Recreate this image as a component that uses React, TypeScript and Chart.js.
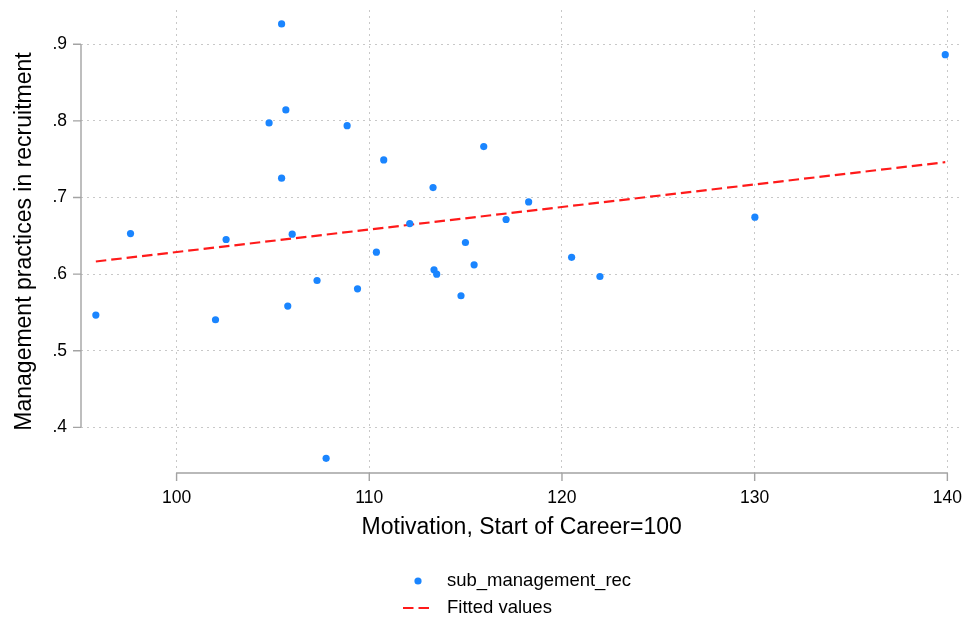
import React, { useEffect, useRef } from "react";
import { Chart, registerables } from "chart.js";

Chart.register(...registerables);

// Scatter observations: Motivation (x) vs Management practices in recruitment (y)
const motivation = [
  95.81, 97.61, 102.02, 102.57, 104.8, 105.45, 105.45, 105.67, 105.77, 106.0,
  107.29, 107.76, 108.85, 109.39, 110.37, 110.75, 112.1, 113.31, 113.36, 113.5,
  114.76, 114.99, 115.44, 115.94, 117.1, 118.27, 120.5, 121.97, 130.01, 139.89,
];
const management = [
  0.5466, 0.653, 0.5405, 0.6452, 0.7974, 0.9265, 0.7252, 0.8143, 0.5583, 0.6522,
  0.5917, 0.3596, 0.7938, 0.5809, 0.6287, 0.7491, 0.666, 0.713, 0.6057, 0.6,
  0.5718, 0.6413, 0.6122, 0.7665, 0.6713, 0.6943, 0.622, 0.5969, 0.6744, 0.8864,
];

// Fitted values (two end points of the straight fit)
const fitX = [95.81, 139.89];
const fitY = [0.6165, 0.7461];

const xTickValues = [100, 110, 120, 130, 140];
const xTickLabels = ["100", "110", "120", "130", "140"];
const yTickValues = [0.4, 0.5, 0.6, 0.7, 0.8, 0.9];
const yTickLabels = [".4", ".5", ".6", ".7", ".8", ".9"];

const seriesLabels = ["sub_management_rec", "Fitted values"];
const xTitle = "Motivation, Start of Career=100";
const yTitle = "Management practices in recruitment";

const FONT = "'Liberation Sans', Arial, Helvetica, sans-serif";
const BLUE = "#1a85ff";
const RED = "#ff1a1a";
const AXIS = "#a3a3a3";
const GRID = "#c8c8c8";
const DASH = [10.5, 5];

const axisPlugin = {
  id: "stataAxes",
  afterDraw(chart: any) {
    const ctx = chart.ctx;
    const xs = chart.scales.x;
    const ys = chart.scales.y;
    const area = chart.chartArea;
    ctx.save();
    ctx.strokeStyle = AXIS;
    ctx.lineWidth = 1.4;
    ctx.setLineDash([]);
    const xa = xs.getPixelForValue(xTickValues[0]);
    const xb = xs.getPixelForValue(xTickValues[xTickValues.length - 1]);
    const yBase = area.bottom;
    ctx.beginPath();
    ctx.moveTo(xa, yBase);
    ctx.lineTo(xb, yBase);
    for (const v of xTickValues) {
      const p = xs.getPixelForValue(v);
      ctx.moveTo(p, yBase);
      ctx.lineTo(p, yBase + 8);
    }
    ctx.stroke();
    const ya = ys.getPixelForValue(yTickValues[0]);
    const yb = ys.getPixelForValue(yTickValues[yTickValues.length - 1]);
    const xBase = area.left;
    ctx.beginPath();
    ctx.moveTo(xBase, ya);
    ctx.lineTo(xBase, yb);
    for (const v of yTickValues) {
      const p = ys.getPixelForValue(v);
      ctx.moveTo(xBase, p);
      ctx.lineTo(xBase - 8, p);
    }
    ctx.stroke();
    ctx.restore();
  },
};

const legendPlugin = {
  id: "stataLegend",
  afterDraw(chart: any) {
    const ctx = chart.ctx;
    const ds = chart.data.datasets;
    ctx.save();
    ctx.font = `18.5px ${FONT}`;
    ctx.textBaseline = "middle";
    ctx.textAlign = "left";
    const symX = 418;
    const textX = 447;
    const rowY = [581, 608];
    ctx.fillStyle = ds[0].backgroundColor;
    ctx.beginPath();
    ctx.arc(symX, rowY[0], 3.6, 0, Math.PI * 2);
    ctx.fill();
    ctx.strokeStyle = ds[1].borderColor;
    ctx.lineWidth = 2.2;
    ctx.setLineDash(DASH);
    ctx.beginPath();
    ctx.moveTo(403, rowY[1]);
    ctx.lineTo(433, rowY[1]);
    ctx.stroke();
    ctx.setLineDash([]);
    ctx.fillStyle = "#000";
    ctx.fillText(ds[0].label, textX, rowY[0]);
    ctx.fillText(ds[1].label, textX, rowY[1]);
    ctx.restore();
  },
};

const zeroPad = (s: any) => {
  s.paddingTop = 0;
  s.paddingBottom = 0;
  s.paddingLeft = 0;
  s.paddingRight = 0;
};

export default function App() {
  const ref = useRef<HTMLCanvasElement | null>(null);

  useEffect(() => {
    if (!ref.current) return;
    const chart = new Chart(ref.current, {
      type: "scatter",
      data: {
        datasets: [
          {
            label: seriesLabels[0],
            data: motivation.map((x, i) => ({ x, y: management[i] })),
            backgroundColor: BLUE,
            borderColor: BLUE,
            borderWidth: 0,
            pointRadius: 3.6,
            pointHoverRadius: 3.6,
            order: 1,
          },
          {
            label: seriesLabels[1],
            type: "line",
            data: fitX.map((x, i) => ({ x, y: fitY[i] })),
            borderColor: RED,
            backgroundColor: RED,
            borderWidth: 2.2,
            borderDash: DASH,
            pointRadius: 0,
            showLine: true,
            fill: false,
            order: 2,
          } as any,
        ],
      },
      options: {
        animation: false,
        responsive: false,
        maintainAspectRatio: false,
        layout: { padding: { top: 10, right: 3, bottom: 0, left: 0 } },
        plugins: {
          legend: { display: false },
          tooltip: { enabled: false },
        },
        scales: {
          x: {
            type: "linear",
            position: "bottom",
            min: 95.04,
            max: 140.78,
            afterFit: (s: any) => {
              s.height = 147;
              zeroPad(s);
            },
            afterBuildTicks: (s: any) => {
              s.ticks = xTickValues.map((v) => ({ value: v }));
            },
            border: { display: false, dash: [2, 4] },
            grid: {
              color: GRID,
              lineWidth: 1,
              drawTicks: true,
              tickLength: 8,
              tickColor: "rgba(0,0,0,0)",
            },
            ticks: {
              autoSkip: false,
              maxRotation: 0,
              padding: 7,
              color: "#000",
              font: { family: FONT, size: 17.5 },
              callback: (v: any) => xTickLabels[xTickValues.indexOf(v)] ?? "",
            },
            title: {
              display: true,
              text: xTitle,
              color: "#000",
              font: { family: FONT, size: 23 },
              padding: { top: 0, bottom: 78.5 },
            },
          },
          y: {
            type: "linear",
            position: "left",
            min: 0.3405,
            max: 0.9447,
            afterFit: (s: any) => {
              s.width = 81;
              zeroPad(s);
            },
            afterBuildTicks: (s: any) => {
              s.ticks = yTickValues.map((v) => ({ value: v }));
            },
            border: { display: false, dash: [2, 4] },
            grid: {
              color: GRID,
              lineWidth: 1,
              drawTicks: true,
              tickLength: 8,
              tickColor: "rgba(0,0,0,0)",
            },
            ticks: {
              autoSkip: false,
              padding: 6,
              color: "#000",
              font: { family: FONT, size: 17.5 },
              callback: (v: any) => yTickLabels[yTickValues.indexOf(v)] ?? "",
            },
            title: {
              display: true,
              text: yTitle,
              color: "#000",
              font: { family: FONT, size: 23 },
              padding: { top: 11, bottom: 0 },
            },
          },
        },
      },
      plugins: [axisPlugin, legendPlugin],
    });
    return () => chart.destroy();
  }, []);

  return (
    <div style={{ position: "absolute", left: 0, top: 0, width: 966, height: 620, background: "#fff" }}>
      <canvas ref={ref} width={966} height={620} />
    </div>
  );
}
